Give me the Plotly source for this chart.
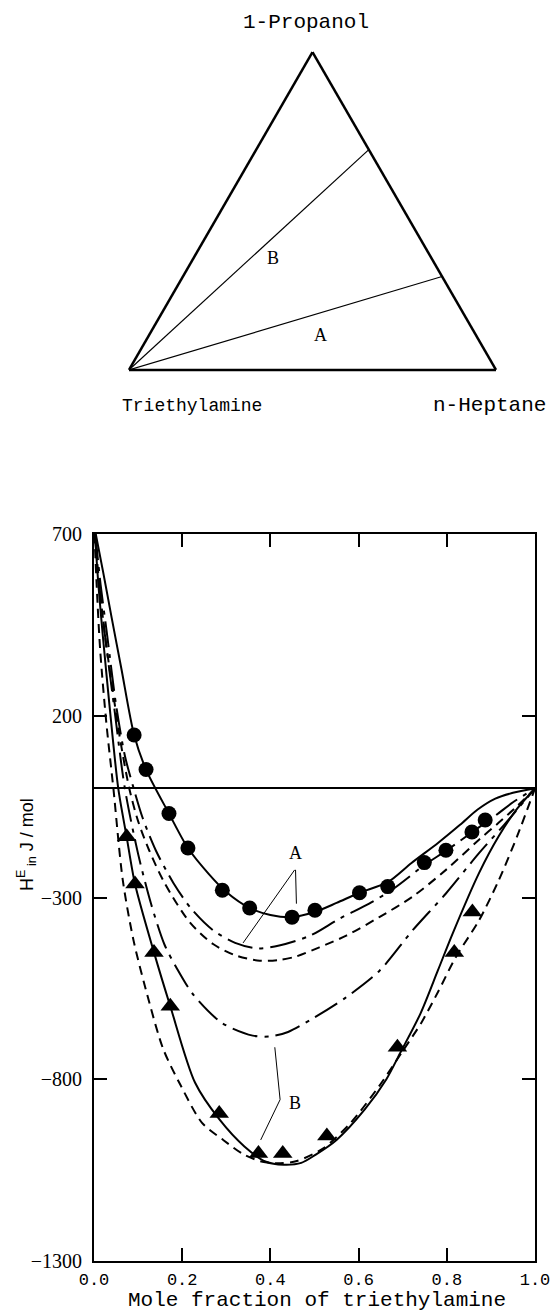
import plotly.graph_objects as go

# ---------------- data ----------------
# experimental points
x_circ = [0.091, 0.118, 0.170, 0.213, 0.291, 0.353, 0.449, 0.501, 0.602, 0.666, 0.749, 0.798, 0.857, 0.887]
y_circ = [147, 52, -69, -164, -280, -329, -354, -335, -287, -270, -204, -170, -120, -87]

x_tri = [0.074, 0.093, 0.136, 0.173, 0.284, 0.373, 0.428, 0.528, 0.688, 0.817, 0.858]
y_tri = [-133, -263, -451, -599, -894, -1004, -1004, -956, -712, -451, -340]

# curves, system A
a_solid_x = [0.004, 0.02, 0.04, 0.062, 0.091, 0.118, 0.17, 0.213, 0.26, 0.30, 0.353, 0.40, 0.449, 0.50, 0.55, 0.602, 0.666, 0.72, 0.78, 0.83, 0.87, 0.91, 0.95, 1.0]
a_solid_y = [700, 600, 470, 330, 147, 52, -69, -164, -235, -285, -329, -348, -354, -340, -315, -287, -258, -205, -150, -100, -58, -28, -12, 0]

a_dashdot_x = [0.003, 0.015, 0.03, 0.05, 0.07, 0.09, 0.11, 0.14, 0.18, 0.22, 0.27, 0.32, 0.37, 0.42, 0.49, 0.557, 0.624, 0.68, 0.75, 0.80, 0.86, 0.91, 0.95, 1.0]
a_dashdot_y = [700, 560, 420, 230, 90, 0, -80, -170, -260, -330, -390, -425, -440, -432, -405, -358, -317, -275, -210, -170, -118, -75, -38, 0]

a_dashed_x = [0.002, 0.012, 0.025, 0.04, 0.06, 0.08, 0.10, 0.125, 0.16, 0.217, 0.27, 0.323, 0.376, 0.42, 0.459, 0.511, 0.572, 0.647, 0.722, 0.798, 0.873, 0.918, 0.96, 1.0]
a_dashed_y = [700, 560, 420, 290, 130, 0, -90, -170, -260, -368, -428, -460, -474, -472, -462, -437, -405, -354, -298, -224, -141, -94, -48, 0]

# curves, system B
b_solid_x = [0.002, 0.01, 0.02, 0.035, 0.055, 0.074, 0.093, 0.136, 0.173, 0.229, 0.284, 0.341, 0.39, 0.43, 0.47, 0.502, 0.55, 0.614, 0.663, 0.695, 0.74, 0.78, 0.813, 0.873, 0.918, 0.96, 1.0]
b_solid_y = [700, 560, 420, 230, 0, -133, -263, -451, -599, -809, -910, -985, -1027, -1035, -1030, -1008, -967, -883, -800, -726, -620, -500, -400, -233, -131, -55, 0]

b_dashed_x = [0.001, 0.006, 0.014, 0.028, 0.044, 0.065, 0.09, 0.125, 0.157, 0.197, 0.245, 0.293, 0.341, 0.382, 0.422, 0.46, 0.52, 0.582, 0.647, 0.703, 0.743, 0.78, 0.82, 0.873, 0.918, 0.96, 1.0]
b_dashed_y = [700, 560, 381, 180, 0, -250, -420, -587, -717, -818, -920, -967, -1008, -1027, -1031, -1025, -990, -920, -818, -717, -643, -560, -465, -363, -252, -130, 0]

b_dashdot_x = [0.002, 0.012, 0.025, 0.045, 0.07, 0.10, 0.13, 0.16, 0.187, 0.225, 0.29, 0.36, 0.40, 0.44, 0.50, 0.57, 0.647, 0.722, 0.798, 0.873, 0.93, 1.0]
b_dashdot_y = [700, 560, 420, 230, 0, -180, -320, -430, -493, -567, -645, -680, -682, -670, -630, -576, -502, -391, -289, -178, -100, 0]

# label pointers
a_label = (0.457, -178)
a_ptr1_x = [0.455, 0.338]
a_ptr1_y = [-224, -425]
a_ptr2_x = [0.457, 0.459]
a_ptr2_y = [-224, -317]
b_label = (0.455, -865)
b_ptr_x = [0.41, 0.422, 0.378]
b_ptr_y = [-712, -856, -967]

# axis ticks
x_ticks = [0.0, 0.2, 0.4, 0.6, 0.8, 1.0]
x_ticktext = ["0.0", "0.2", "0.4", "0.6", "0.8", "1.0"]
y_ticks = [700, 200, -300, -800, -1300]
y_ticktext = ["700", "200", "\u2212300", "\u2212800", "\u22121300"]

# ternary: composition of the two pseudo-binary paths (end point on propanol/heptane edge)
path_B_propanol, path_B_heptane = 0.693, 0.307
path_A_propanol, path_A_heptane = 0.294, 0.706

W, H = 555, 1313
SERIF = "Liberation Serif, Times New Roman, serif"
MONO = "Liberation Mono, Courier New, monospace"
SANS = "Liberation Sans, Arial, sans-serif"

fig = go.Figure()

def curve(x, y, dash):
    fig.add_trace(go.Scatter(x=x, y=y, mode="lines",
                             line=dict(color="black", width=2, dash=dash, shape="spline", smoothing=0.8),
                             hoverinfo="skip", showlegend=False))

DASH = "9px,6px"
DASHDOT = "26px,7px,4px,7px"
curve(a_solid_x, a_solid_y, "solid")
curve(a_dashdot_x, a_dashdot_y, DASHDOT)
curve(a_dashed_x, a_dashed_y, DASH)
curve(b_solid_x, b_solid_y, "solid")
curve(b_dashed_x, b_dashed_y, DASH)
curve(b_dashdot_x, b_dashdot_y, DASHDOT)

fig.add_trace(go.Scatter(x=x_circ, y=y_circ, mode="markers",
                         marker=dict(symbol="circle", size=15, color="black", line=dict(width=0)),
                         showlegend=False, hoverinfo="skip"))
fig.add_trace(go.Scatter(x=x_tri, y=y_tri, mode="markers",
                         marker=dict(symbol="triangle-up", size=17, color="black", line=dict(width=0)),
                         showlegend=False, hoverinfo="skip"))

for px, py in [(a_ptr1_x, a_ptr1_y), (a_ptr2_x, a_ptr2_y), (b_ptr_x, b_ptr_y)]:
    fig.add_trace(go.Scatter(x=px, y=py, mode="lines", line=dict(color="black", width=1),
                             showlegend=False, hoverinfo="skip"))

fig.add_annotation(x=a_label[0], y=a_label[1], xref="x", yref="y", text="A", showarrow=False,
                   font=dict(family=SERIF, size=18, color="black"))
fig.add_annotation(x=b_label[0], y=b_label[1], xref="x", yref="y", text="B", showarrow=False,
                   font=dict(family=SERIF, size=18, color="black"))

# ---------------- ternary diagram ----------------
for prop, hept in [(path_B_propanol, path_B_heptane), (path_A_propanol, path_A_heptane)]:
    fig.add_trace(go.Scatterternary(a=[0, prop], b=[1, 0], c=[0, hept], mode="lines",
                                    line=dict(color="black", width=1.2),
                                    showlegend=False, hoverinfo="skip"))

tern_axis = dict(showline=True, linewidth=2.5, linecolor="black", showgrid=False,
                 ticks="", showticklabels=False, min=0, title=dict(text=""))
fig.update_layout(ternary=dict(
    domain=dict(x=[129 / W, 496 / W], y=[1 - 370 / H, 1 - 52 / H]),
    bgcolor="white", sum=1,
    aaxis=tern_axis, baxis=tern_axis, caxis=tern_axis))

def paper_text(x, y, text, size, family=MONO, angle=0, yanchor="middle"):
    fig.add_annotation(x=x / W, y=1 - y / H, xref="paper", yref="paper", text=text,
                       showarrow=False, font=dict(family=family, size=size, color="black"),
                       xanchor="center", yanchor=yanchor, textangle=angle, borderpad=0)

paper_text(306, 22, "1-Propanol", 21)
paper_text(192, 406, "Triethylamine", 18)
paper_text(489, 406, "n-Heptane", 21)
paper_text(273, 258, "B", 18, SERIF)
paper_text(320, 335, "A", 18, SERIF)

# axis titles
paper_text(317, 1313, "Mole fraction of triethylamine", 21, yanchor="bottom")
paper_text(26, 845, "H<sup>E</sup><sub> in</sub> J / mol", 18, SANS, -90)

# ---------------- axes ----------------
fig.update_layout(
    template="none",
    width=W, height=H, margin=dict(l=0, r=0, t=0, b=0, pad=0),
    paper_bgcolor="white", plot_bgcolor="white", showlegend=False,
    xaxis=dict(domain=[94 / W, 535 / W], range=[0, 1], tickvals=x_ticks, ticktext=x_ticktext,
               ticks="inside", ticklen=13, tickwidth=2, tickcolor="black", automargin=False,
               showline=True, linewidth=2, linecolor="black", mirror="ticks",
               showgrid=False, zeroline=False, ticklabelstandoff=2,
               tickfont=dict(family=MONO, size=17, color="black")),
    yaxis=dict(domain=[1 - 1261 / H, 1 - 534 / H], range=[-1300, 700], tickvals=y_ticks, ticktext=y_ticktext,
               ticks="inside", ticklen=13, tickwidth=2, tickcolor="black", automargin=False,
               showline=True, linewidth=2, linecolor="black", mirror="ticks",
               showgrid=False, zeroline=True, zerolinecolor="black", zerolinewidth=2,
               ticklabelstandoff=6,
               tickfont=dict(family=SERIF, size=20, color="black")),
)

fig.write_html("out.html", config={"displayModeBar": False},
               post_script="document.body.style.margin='0px';document.documentElement.style.overflow='hidden';")
